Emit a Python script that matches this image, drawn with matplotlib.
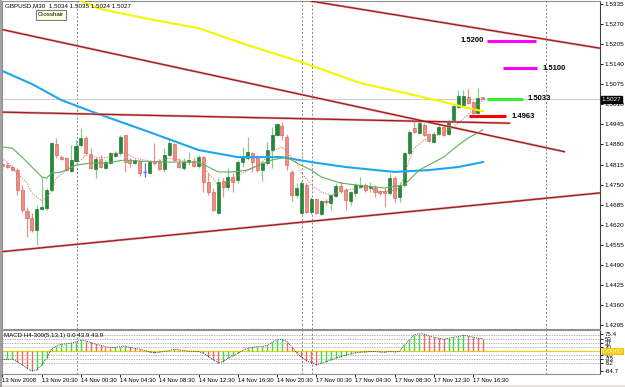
import matplotlib
matplotlib.use("Agg")
import matplotlib.pyplot as plt
import matplotlib.transforms as mtransforms
from matplotlib.patches import Rectangle

REG = ['Liberation Sans', 'DejaVu Sans']
NARROW = ['Liberation Sans Narrow', 'Liberation Sans', 'DejaVu Sans']
plt.rcParams['font.family'] = REG

# ---------------- data ----------------
symbol_title = "GBPUSD,M30  1.5034 1.5035 1.5024 1.5027"
macd_title = "MACD H4-300(5,13,1) 0.0 43.9 43.9"
last_price = 1.5027

opens = [1.4817, 1.4813, 1.4807, 1.4797, 1.4732, 1.4664, 1.4642, 1.4603, 1.4671, 1.4674,
         1.4732, 1.4881, 1.4839, 1.4836, 1.4794, 1.4826, 1.4878, 1.4901, 1.4849, 1.4800,
         1.4833, 1.4804, 1.4820, 1.4843, 1.4852, 1.4911, 1.4830, 1.4820, 1.4826, 1.4791,
         1.4787, 1.4826, 1.4823, 1.4800, 1.4846, 1.4881, 1.4820, 1.4804, 1.4823, 1.4826,
         1.4810, 1.4839, 1.4758, 1.4726, 1.4658, 1.4762, 1.4742, 1.4775, 1.4765, 1.4823,
         1.4836, 1.4852, 1.4839, 1.4797, 1.4820, 1.4862, 1.4911, 1.4940, 1.4904, 1.4791,
         1.4716, 1.4658, 1.4749, 1.4661, 1.4703, 1.4655, 1.4697, 1.4690, 1.4713, 1.4745,
         1.4732, 1.4697, 1.4723, 1.4742, 1.4749, 1.4739, 1.4739, 1.4729, 1.4729, 1.4723,
         1.4771, 1.4710, 1.4749, 1.4852, 1.4933, 1.4917, 1.4943, 1.4914, 1.4888, 1.4914,
         1.4937, 1.4914, 1.4956, 1.5001, 1.5008, 1.5034, 1.5018, 1.4982, 1.5034]
highs = [1.4836, 1.4823, 1.4813, 1.4804, 1.4749, 1.4677, 1.4658, 1.4684, 1.4775, 1.4739,
         1.4888, 1.4901, 1.4846, 1.4839, 1.4878, 1.4894, 1.4933, 1.4907, 1.4868, 1.4839,
         1.4846, 1.4830, 1.4856, 1.4859, 1.4911, 1.4911, 1.4836, 1.4833, 1.4830, 1.4820,
         1.4830, 1.4885, 1.4833, 1.4868, 1.4901, 1.4885, 1.4836, 1.4836, 1.4856, 1.4836,
         1.4846, 1.4843, 1.4787, 1.4739, 1.4771, 1.4771, 1.4804, 1.4787, 1.4830, 1.4872,
         1.4904, 1.4856, 1.4846, 1.4826, 1.4888, 1.4937, 1.4949, 1.4953, 1.4914, 1.4797,
         1.4755, 1.4762, 1.4755, 1.4710, 1.4706, 1.4700, 1.4703, 1.4719, 1.4755, 1.4762,
         1.4739, 1.4729, 1.4755, 1.4775, 1.4755, 1.4758, 1.4749, 1.4732, 1.4739, 1.4787,
         1.4778, 1.4758, 1.4856, 1.4927, 1.4959, 1.4959, 1.4949, 1.4917, 1.4920, 1.4943,
         1.4943, 1.4962, 1.5008, 1.5056, 1.5056, 1.5060, 1.5021, 1.5063, 1.5035]
lows = [1.4797, 1.4804, 1.4794, 1.4716, 1.4661, 1.4580, 1.4596, 1.4554, 1.4668, 1.4668,
        1.4729, 1.4836, 1.4830, 1.4794, 1.4791, 1.4823, 1.4872, 1.4849, 1.4800, 1.4771,
        1.4804, 1.4800, 1.4817, 1.4839, 1.4846, 1.4791, 1.4807, 1.4817, 1.4778, 1.4775,
        1.4784, 1.4813, 1.4797, 1.4791, 1.4843, 1.4826, 1.4804, 1.4797, 1.4813, 1.4807,
        1.4804, 1.4726, 1.4716, 1.4664, 1.4655, 1.4710, 1.4732, 1.4726, 1.4755, 1.4807,
        1.4830, 1.4791, 1.4791, 1.4762, 1.4813, 1.4804, 1.4907, 1.4894, 1.4797, 1.4697,
        1.4706, 1.4655, 1.4658, 1.4655, 1.4655, 1.4651, 1.4684, 1.4668, 1.4710, 1.4723,
        1.4668, 1.4684, 1.4713, 1.4739, 1.4726, 1.4726, 1.4710, 1.4716, 1.4677, 1.4716,
        1.4693, 1.4693, 1.4742, 1.4846, 1.4917, 1.4914, 1.4907, 1.4888, 1.4885, 1.4911,
        1.4907, 1.4911, 1.4953, 1.4998, 1.5005, 1.5011, 1.4979, 1.4979, 1.5024]
closes = [1.4810, 1.4807, 1.4797, 1.4732, 1.4668, 1.4642, 1.4603, 1.4671, 1.4677, 1.4732,
          1.4885, 1.4846, 1.4833, 1.4797, 1.4830, 1.4875, 1.4901, 1.4852, 1.4804, 1.4833,
          1.4807, 1.4823, 1.4852, 1.4852, 1.4904, 1.4823, 1.4820, 1.4830, 1.4787, 1.4791,
          1.4823, 1.4820, 1.4800, 1.4846, 1.4885, 1.4830, 1.4807, 1.4823, 1.4830, 1.4810,
          1.4839, 1.4758, 1.4726, 1.4668, 1.4758, 1.4742, 1.4775, 1.4758, 1.4823, 1.4839,
          1.4856, 1.4823, 1.4797, 1.4820, 1.4862, 1.4911, 1.4946, 1.4911, 1.4813, 1.4716,
          1.4739, 1.4755, 1.4661, 1.4703, 1.4658, 1.4697, 1.4693, 1.4716, 1.4745, 1.4729,
          1.4700, 1.4726, 1.4749, 1.4749, 1.4732, 1.4742, 1.4726, 1.4723, 1.4723, 1.4771,
          1.4706, 1.4749, 1.4852, 1.4920, 1.4920, 1.4949, 1.4911, 1.4891, 1.4914, 1.4937,
          1.4911, 1.4956, 1.5005, 1.5037, 1.5037, 1.5014, 1.4982, 1.5030, 1.5027]
bars = list(range(len(opens)))

# moving averages (knots: bar index, price)
ma_fast_bars = [0, 1, 3, 5, 6, 8, 10, 11, 13, 15, 17, 19, 21, 23, 25, 27, 31, 34, 38, 40,
                42, 44, 46, 47, 49, 53, 55, 57, 58, 60, 61, 63, 65, 67, 70, 74, 77, 80,
                81, 82, 83, 84, 86, 90, 93, 96, 98]
ma_fast_vals = [1.4836, 1.4823, 1.4787, 1.4755, 1.4723, 1.4697, 1.4726, 1.4771, 1.4797, 1.4813,
                1.4846, 1.4839, 1.4836, 1.4852, 1.4852, 1.4836, 1.4823, 1.4836, 1.4823, 1.4823,
                1.4787, 1.4749, 1.4758, 1.4771, 1.4787, 1.4823, 1.4856, 1.4872, 1.4856, 1.4820,
                1.4787, 1.4749, 1.4726, 1.4716, 1.4732, 1.4742, 1.4726, 1.4732, 1.4739, 1.4781,
                1.4830, 1.4868, 1.4894, 1.4917, 1.4949, 1.4992, 1.5024]
ma_slow_bars = [0, 2, 4, 6, 8, 9, 10, 12, 15, 18, 21, 25, 28, 34, 40, 42, 44, 47, 50, 51,
                55, 58, 60, 63, 65, 69, 72, 78, 82, 85, 90, 93, 95, 98]
ma_slow_vals = [1.4872, 1.4868, 1.4839, 1.4807, 1.4775, 1.4771, 1.4787, 1.4791, 1.4813, 1.4820,
                1.4820, 1.4830, 1.4826, 1.4823, 1.4823, 1.4807, 1.4791, 1.4791, 1.4797, 1.4804,
                1.4830, 1.4839, 1.4820, 1.4797, 1.4775, 1.4755, 1.4749, 1.4739, 1.4749, 1.4797,
                1.4839, 1.4878, 1.4901, 1.4927]
ma_mid_bars = [0, 6, 12, 19, 30, 40, 48, 57, 63, 70, 80, 87, 93, 98]
ma_mid_vals = [1.5118, 1.5076, 1.5024, 1.4982, 1.4920, 1.4862, 1.4839, 1.4839, 1.4823, 1.4807,
               1.4791, 1.4797, 1.4807, 1.4823]
ma_long_bars = [16, 20, 30, 40, 50, 61, 73, 82, 90, 95, 98]
ma_long_vals = [1.5345, 1.5319, 1.5286, 1.5257, 1.5202, 1.5147, 1.5079, 1.5047, 1.5018, 1.4998,
                1.4988]

# trend lines: (start bar, end bar), (start price, end price)
trend_bars = [(-0.5, 114.8), (62.8, 121.9), (-0.5, 103.6), (-0.5, 121.9)]
trend_prices = [(1.5254, 1.4856), (1.5345, 1.5192), (1.4985, 1.4949), (1.4532, 1.4723)]

# horizontal level objects
level_labels = ["1.5200", "1.5100", "1.5033", "1.4963"]
level_prices = [1.5216, 1.5127, 1.5029, 1.4972]
level_start = [98.9, 102.1, 98.9, 95.2]
level_end = [108.9, 109.1, 106.2, 102.8]
level_colors = ["#ff00ff", "#ff00ff", "#33ee33", "#ff0000"]
level_label_side = ["left", "right", "right", "right"]

separator_bars = [15.2, 61.1, 63.2, 110.9]

price_ticks = [1.5335, 1.5270, 1.5205, 1.5140, 1.5075, 1.5010, 1.4945, 1.4880, 1.4815,
               1.4750, 1.4685, 1.4620, 1.4555, 1.4490, 1.4425, 1.4360, 1.4295]
time_ticks = [0, 8, 16, 24, 32, 40, 48, 56, 64, 72, 80, 88, 96]
time_labels = ["13 Nov 2008", "13 Nov 20:30", "14 Nov 00:30", "14 Nov 04:30", "14 Nov 08:30",
               "14 Nov 12:30", "14 Nov 16:30", "14 Nov 20:30", "17 Nov 00:30", "17 Nov 04:30",
               "17 Nov 08:30", "17 Nov 12:30", "17 Nov 16:30"]

macd_vals = [-36, -35, -34, -45, -59, -74, -84.7, -80, -59, -30,
             10, 23, 30, 32, 35, 40, 49, 45, 38, 30,
             26, 20, 16, 17, 20, 23, 17, 12, 9, 3,
             -3, -6, -4, -1, 3, 9, 6, 3, 0, 0,
             -1, -9, -23, -37, -49, -45, -30, -20, -9, 3,
             13, 17, 20, 20, 26, 38, 49, 52, 42, 20,
             -6, -26, -40, -49, -59, -52, -45, -37, -30, -23,
             -17, -12, -7, -4, -3, -1, -1, -3, -4, -1,
             -3, 0, 27, 49, 71, 75.4, 75, 66, 61, 56,
             52, 56, 61, 63, 69, 66, 61, 56, 55]
macd_levels = [70, 53, 37, 20, -16, -33, -52]
macd_tick_vals = [75.4, 53, 37, 20, -16, -33, -52, -84.7]
macd_tick_labels = ["75.4", "53", "37", "20", "-16", "-33", "-52", "-84.7"]

# ---------------- figure ----------------
W, H = 625, 387
fig = plt.figure(figsize=(W / 100, H / 100), dpi=100)
fig.patch.set_facecolor("white")
ax = fig.add_axes([2 / W, 1 - 329 / H, 598 / W, 328 / H])
ax2 = fig.add_axes([2 / W, 1 - 374 / H, 598 / W, 44 / H])

XLIM = (-0.1, 121.9)
for a in (ax, ax2):
    a.set_xlim(*XLIM)
    a.set_facecolor("white")
    for s in ("left", "top", "bottom"):
        a.spines[s].set_color("#909090")
        a.spines[s].set_linewidth(0.8)
    a.spines["right"].set_color("#404040")
    a.spines["right"].set_linewidth(0.8)

ax.set_ylim(1.4282, 1.5345)
ax2.set_ylim(-98.4, 92)

# separators
for s in separator_bars:
    ax.axvline(s, color="#808080", ls=(0, (2, 2)), lw=0.7, zorder=1)
    ax2.axvline(s, color="#808080", ls=(0, (2, 2)), lw=0.7, zorder=1)

# bid line
ax.axhline(last_price, color="#cccccc", lw=0.7, zorder=1)

# candles
bull_body, bull_edge, bull_wick = "#1f8b35", "#15662a", "#8bcc8b"
bear_body, bear_edge, bear_wick = "#ee8e83", "#d0564c", "#e3958b"
up_x = [b for b, o, c in zip(bars, opens, closes) if c > o]
dn_x = [b for b, o, c in zip(bars, opens, closes) if c < o]
dj_x = [b for b, o, c in zip(bars, opens, closes) if c == o]

ax.vlines(up_x, [lows[b] for b in up_x], [highs[b] for b in up_x], color=bull_wick, lw=0.9, zorder=2)
ax.vlines(dn_x, [lows[b] for b in dn_x], [highs[b] for b in dn_x], color=bear_wick, lw=0.9, zorder=2)
ax.vlines(dj_x, [lows[b] for b in dj_x], [highs[b] for b in dj_x], color="#4a6cf0", lw=0.9, zorder=2)
ax.hlines([opens[b] for b in dj_x], [b - 0.3 for b in dj_x], [b + 0.3 for b in dj_x], color="#4a6cf0", lw=0.9, zorder=2)
ax.bar(up_x, [closes[b] - opens[b] for b in up_x], bottom=[opens[b] for b in up_x], width=0.62,
       color=bull_body, edgecolor=bull_edge, linewidth=0.4, zorder=2.5)
ax.bar(dn_x, [opens[b] - closes[b] for b in dn_x], bottom=[closes[b] for b in dn_x], width=0.62,
       color=bear_body, edgecolor=bear_edge, linewidth=0.4, zorder=2.5)

# moving averages
ax.plot(ma_long_bars, ma_long_vals, color="#f5f500", lw=1.5, zorder=3)
ax.plot(ma_mid_bars, ma_mid_vals, color="#1ea6f2", lw=1.5, zorder=3)
ax.plot(ma_slow_bars, ma_slow_vals, color="#5bb05b", lw=0.8, zorder=3)
ax.plot(ma_fast_bars, ma_fast_vals, color="#cf7f70", lw=0.8, ls=(0, (1, 1.3)), zorder=3)

# trend lines
for (b0, b1), (p0, p1) in zip(trend_bars, trend_prices):
    ax.plot([b0, b1], [p0, p1], color="#e2a3a3", lw=1.7, zorder=3.5, solid_capstyle="butt")
    ax.plot([b0, b1], [p0, p1], color="#a01c1c", lw=0.9, zorder=3.6, solid_capstyle="butt")

# level objects
for lab, p, s, e, col, side in zip(level_labels, level_prices, level_start, level_end,
                                   level_colors, level_label_side):
    ax.hlines(p, s, e, color=col, lw=2.2, zorder=4)
    if side == "left":
        ax.text(s - 0.6, p, lab, ha="right", va="center", fontsize=5.5, fontweight="bold",
                color="black", zorder=5)
    else:
        ax.text(e + 1.0, p, lab, ha="left", va="center", fontsize=5.5, fontweight="bold",
                color="black", zorder=5)

# price axis
ax.yaxis.tick_right()
ax.set_yticks(price_ticks)
ax.set_yticklabels([f"{t:.4f}" for t in price_ticks])
ax.tick_params(axis="y", length=2, width=0.6, pad=1.2, labelsize=4.6, colors="black")
ax.tick_params(axis="x", bottom=False, labelbottom=False)
trans = mtransforms.blended_transform_factory(ax.transAxes, ax.transData)
ax.text(1.003, last_price, f"{last_price:.4f}", transform=trans, ha="left", va="center",
        fontsize=4.6, color="white", clip_on=False, zorder=6,
        bbox=dict(boxstyle="square,pad=0.15", fc="black", ec="black"))

# texts on the price panel
fig.text(5 / W, 1 - 6 / H, symbol_title, fontsize=4.5, family=NARROW, ha="left", va="center")
fig.text(38 / W, 1 - 15 / H, "Crosshair", fontsize=4.4, ha="left", va="center", zorder=10,
         bbox=dict(boxstyle="square,pad=0.35", fc="#ffffe1", ec="#404040", lw=0.5))

# MACD panel
for lv in macd_levels:
    ax2.axhline(lv, color="#999999", ls=(0, (2, 1.5)), lw=0.5, zorder=1)
ax2.axhline(0, color="#f0d000", lw=0.9, zorder=1.5)
macd_cols = ["#3fdc3f" if (i == 0 or v >= macd_vals[i - 1]) else "#f06868"
             for i, v in enumerate(macd_vals)]
ax2.vlines(bars, 0, macd_vals, colors=macd_cols, lw=1.0, zorder=2)
ax2.plot(bars, macd_vals, color="#202020", lw=0.6, ls=(0, (1, 1.2)), zorder=3)
ax2.yaxis.tick_right()
ax2.set_yticks(macd_tick_vals)
ax2.set_yticklabels(macd_tick_labels)
ax2.tick_params(axis="y", length=2, width=0.6, pad=1.2, labelsize=4.4, colors="black")
trans2 = mtransforms.blended_transform_factory(ax2.transAxes, ax2.transData)
ax2.text(1.005, 0, "0.0000", transform=trans2, ha="left", va="center", fontsize=4.6,
         color="white", clip_on=False, zorder=6,
         bbox=dict(boxstyle="square,pad=0.12", fc="#f2c800", ec="none"))
ax2.text(0.004, 0.93, macd_title, transform=ax2.transAxes, ha="left", va="top",
         fontsize=4.4, family=NARROW)

ax2.set_xticks(time_ticks)
ax2.set_xticklabels(time_labels, ha="left", fontsize=4.3, family=NARROW)
ax2.tick_params(axis="x", length=2, width=0.6, pad=1.2, colors="black")

# window frame
fig.add_artist(plt.Line2D([0.8 / W, 0.8 / W], [0, 1], color="#909090", lw=1.2))
fig.add_artist(Rectangle((0, 0), 1, 2 / H, transform=fig.transFigure, fc="#e4e2dc", ec="none"))

fig.savefig("out.png", dpi=100, facecolor="white")
